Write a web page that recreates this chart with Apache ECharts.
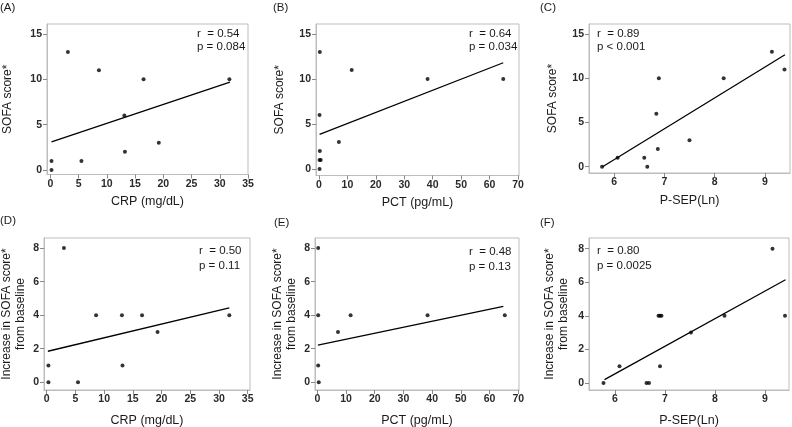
<!DOCTYPE html>
<html>
<head>
<meta charset="utf-8">
<script src="https://cdn.jsdelivr.net/npm/echarts@6/dist/echarts.min.js"></script>
<style>
html, body { margin: 0; padding: 0; background: #fff; }
#chart { width: 792px; height: 427px; }
</style>
</head>
<body>
<div id="chart"></div>
<script>
/** 数据：从图上读出来的 */

// 刻度
const CRP_TICKS = [0, 5, 10, 15, 20, 25, 30, 35]
const PCT_TICKS = [0, 10, 20, 30, 40, 50, 60, 70]
const PSEP_TICKS = [6, 7, 8, 9]
const SOFA_TICKS = [0, 5, 10, 15]
const INC_TICKS = [0, 2, 4, 6, 8]

// (A) CRP vs SOFA
const crpA = [0.2, 0.2, 3.1, 5.5, 8.6, 13.1, 13.2, 16.5, 19.2, 31.7]
const sofaA = [0, 1, 13, 1, 11, 6, 2, 10, 3, 10]
const fitA_x = [0.2, 31.8]
const fitA_y = [3.1, 9.7]

// (B) PCT vs SOFA
const pctB = [0.3, 0.2, 0.3, 0.2, 0.6, 0.2, 11.5, 7.0, 38.2, 64.8]
const sofaB = [13, 6, 2, 1, 1, 0, 11, 3, 10, 10]
const fitB_x = [0.2, 64.8]
const fitB_y = [3.85, 11.8]

// (C) P-SEP vs SOFA
const psepC = [5.76, 6.07, 6.6, 6.66, 6.84, 6.87, 6.89, 7.5, 8.18, 9.14, 9.39]
const sofaC = [0, 1, 1, 0, 6, 2, 10, 3, 10, 13, 11]
const fitC_x = [5.77, 9.4]
const fitC_y = [0.0, 12.65]

// (D) CRP vs SOFA 增加
const crpD = [0.3, 0.3, 3.0, 5.45, 8.6, 13.1, 13.2, 16.6, 19.3, 31.8]
const incD = [0, 1, 8, 0, 4, 4, 1, 4, 3, 4]
const fitD_x = [0.2, 31.8]
const fitD_y = [1.85, 4.43]

// (E) PCT vs SOFA 增加
const pctE = [0.3, 0.3, 0.3, 0.5, 7.2, 11.6, 38.4, 65.3]
const incE = [8, 4, 1, 0, 3, 4, 4, 4]
const fitE_x = [0.2, 64.8]
const fitE_y = [2.22, 4.53]

// (F) P-SEP vs SOFA 增加
const psepF = [5.77, 6.09, 6.63, 6.68, 6.87, 6.9, 6.93, 6.9, 7.52, 8.19, 9.15, 9.4]
const incF = [0, 1, 0, 0, 4, 4, 4, 1, 3, 4, 8, 4]
const fitF_x = [5.79, 9.41]
const fitF_y = [0.2, 6.15]

/** 每个小图的配置 */
const PANELS = [
    { tag: "(A)", x: crpA, y: sofaA, fx: fitA_x, fy: fitA_y, xt: CRP_TICKS, yt: SOFA_TICKS,
      xname: "CRP (mg/dL)", yname: "SOFA score*", stat: "r  = 0.54\np = 0.084" },
    { tag: "(B)", x: pctB, y: sofaB, fx: fitB_x, fy: fitB_y, xt: PCT_TICKS, yt: SOFA_TICKS,
      xname: "PCT (pg/mL)", yname: "SOFA score*", stat: "r  = 0.64\np = 0.034" },
    { tag: "(C)", x: psepC, y: sofaC, fx: fitC_x, fy: fitC_y, xt: PSEP_TICKS, yt: SOFA_TICKS,
      xname: "P-SEP(Ln)", yname: "SOFA score*", stat: "r  = 0.89\np < 0.001" },
    { tag: "(D)", x: crpD, y: incD, fx: fitD_x, fy: fitD_y, xt: CRP_TICKS, yt: INC_TICKS,
      xname: "CRP (mg/dL)", yname: "Increase in SOFA score*\nfrom baseline", stat: "r  = 0.50\np = 0.11" },
    { tag: "(E)", x: pctE, y: incE, fx: fitE_x, fy: fitE_y, xt: PCT_TICKS, yt: INC_TICKS,
      xname: "PCT (pg/mL)", yname: "Increase in SOFA score*\nfrom baseline", stat: "r  = 0.48\np = 0.13" },
    { tag: "(F)", x: psepF, y: incF, fx: fitF_x, fy: fitF_y, xt: PSEP_TICKS, yt: INC_TICKS,
      xname: "P-SEP(Ln)", yname: "Increase in SOFA score*\nfrom baseline", stat: "r  = 0.80\np = 0.0025" }
]

/** 版面：网格位置、坐标范围、文字位置 */
const LAYOUT = [
    { grid: [47, 24, 201, 150.5], xr: [-0.6, 35], yr: [-0.5, 16.1], tagPos: [0, 2],
      statPos: [197, 27.5], lh: 13, xgap: 21, ygap: 32 },
    { grid: [316, 24, 203, 151.5], xr: [-1.05, 70.35], yr: [-0.72, 16.1], tagPos: [273, 2],
      statPos: [469, 27.5], lh: 13, xgap: 21, ygap: 29 },
    { grid: [589, 24, 201, 149], xr: [5.5, 9.5], yr: [-0.71, 16.13], tagPos: [540, 2],
      statPos: [597, 27.5], lh: 13, xgap: 21, ygap: 29 },
    { grid: [44, 238, 206, 152], xr: [-0.47, 35.4], yr: [-0.46, 8.6], tagPos: [0, 215],
      statPos: [199, 243.5], lh: 15, xgap: 24.5, ygap: 16 },
    { grid: [315, 238, 204, 152], xr: [-0.8, 70.25], yr: [-0.46, 8.6], tagPos: [274, 217],
      statPos: [469, 244], lh: 15, xgap: 24.5, ygap: 16 },
    { grid: [589, 238, 200, 152], xr: [5.48, 9.48], yr: [-0.42, 8.64], tagPos: [540, 217],
      statPos: [597, 243], lh: 15, xgap: 24.5, ygap: 18 }
]

const FRAME = "#bdbdbd"
const INK = "#1a1a1a"
const FONT = "Liberation Sans, Arial, sans-serif"

function zip(xs, ys) {
    return xs.map((v, i) => [v, ys[i]])
}

function buildOption() {
    let grid = [], xAxis = [], yAxis = [], series = [], title = []

    PANELS.forEach((p, i) => {
        let L = LAYOUT[i]
        grid.push({
            left: L.grid[0], top: L.grid[1], width: L.grid[2], height: L.grid[3],
            show: true, borderColor: FRAME, borderWidth: 1,
            containLabel: false, outerBoundsMode: "none"
        })
        xAxis.push({
            type: "value", gridIndex: i, min: L.xr[0], max: L.xr[1],
            splitLine: { show: false },
            axisLine: { onZero: false, lineStyle: { color: FRAME } },
            axisTick: { length: 4, lineStyle: { color: "#888" }, customValues: p.xt },
            axisLabel: { customValues: p.xt, margin: 4, fontSize: 10.5, fontWeight: "bold",
                color: "#2a2a2a", fontFamily: FONT },
            name: p.xname, nameLocation: "middle", nameGap: L.xgap, nameMoveOverlap: false,
            nameTextStyle: { fontSize: 12.5, color: INK, fontFamily: FONT }
        })
        yAxis.push({
            type: "value", gridIndex: i, min: L.yr[0], max: L.yr[1],
            splitLine: { show: false },
            axisLine: { onZero: false, lineStyle: { color: FRAME } },
            axisTick: { length: 4, lineStyle: { color: "#888" }, customValues: p.yt },
            axisLabel: { customValues: p.yt, margin: 5, fontSize: 10.5, fontWeight: "bold",
                color: "#2a2a2a", fontFamily: FONT },
            name: p.yname, nameLocation: "middle", nameGap: L.ygap, nameMoveOverlap: false,
            nameTextStyle: { fontSize: 12, lineHeight: 14, color: INK, fontFamily: FONT }
        })
        series.push({
            type: "scatter", xAxisIndex: i, yAxisIndex: i,
            data: zip(p.x, p.y), symbolSize: 4,
            itemStyle: { color: "#000" }, silent: true
        })
        series.push({
            type: "line", xAxisIndex: i, yAxisIndex: i,
            data: zip(p.fx, p.fy), showSymbol: false,
            lineStyle: { color: "#000", width: 1.3 }, silent: true
        })
        title.push({
            text: p.tag, left: L.tagPos[0], top: L.tagPos[1], padding: 0,
            textStyle: { fontSize: 11.5, fontWeight: "normal", color: INK, fontFamily: FONT }
        })
        title.push({
            text: p.stat, left: L.statPos[0], top: L.statPos[1], padding: 0,
            textStyle: { fontSize: 11.5, fontWeight: "normal", color: INK, lineHeight: L.lh,
                fontFamily: FONT }
        })
    })

    return { animation: false, title, grid, xAxis, yAxis, series }
}

let chart = echarts.init(document.getElementById("chart"))
chart.setOption(buildOption())
</script>
</body>
</html>
